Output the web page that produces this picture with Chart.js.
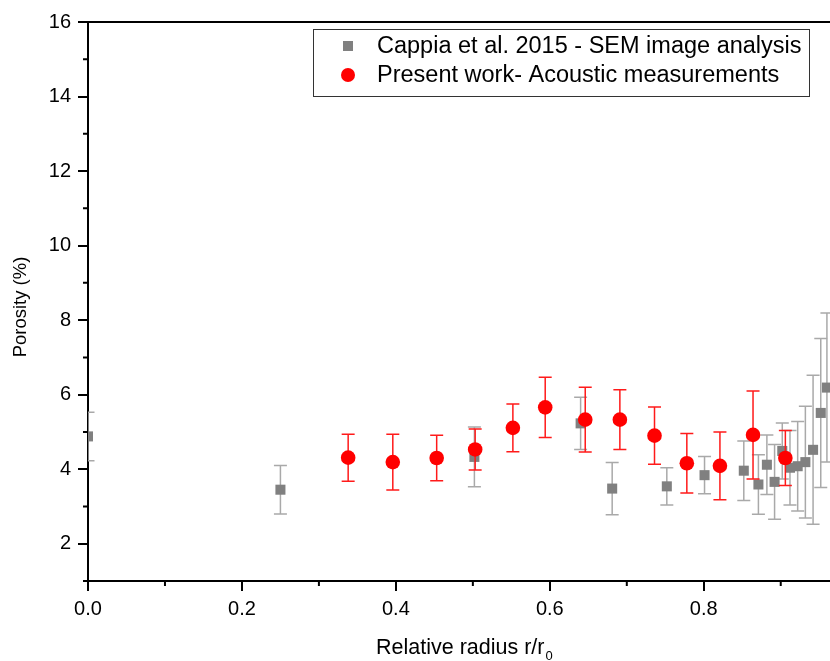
<!DOCTYPE html>
<html>
<head>
<meta charset="utf-8">
<script src="https://cdn.jsdelivr.net/npm/chart.js@4.4.1/dist/chart.umd.min.js"></script>
<style>
  html, body { margin: 0; padding: 0; background: #fff; }
  #wrap { width: 830px; height: 661px; }
</style>
</head>
<body>
<div id="wrap"><canvas id="chart" width="830" height="661"></canvas></div>
<script>
// Cappia et al. 2015 - SEM image analysis
const semX = [0, 0.25, 0.502, 0.64, 0.681, 0.752, 0.801, 0.852, 0.871, 0.882, 0.892, 0.902, 0.912, 0.922, 0.932, 0.942, 0.952, 0.960];
const semY = [4.88, 3.45, 4.33, 5.23, 3.48, 3.54, 3.84, 3.96, 3.59, 4.12, 3.66, 4.49, 4.04, 4.08, 4.19, 4.52, 5.51, 6.19];
const semErr = [0.65, 0.65, 0.8, 0.7, 0.7, 0.5, 0.5, 0.8, 0.8, 0.8, 1.0, 0.75, 1.0, 1.2, 1.5, 2.0, 2.0, 2.0];

// Present work - acoustic measurements
const acX = [0.338, 0.396, 0.453, 0.503, 0.552, 0.594, 0.646, 0.691, 0.736, 0.778, 0.821, 0.864, 0.906];
const acY = [4.31, 4.19, 4.30, 4.53, 5.11, 5.66, 5.33, 5.33, 4.90, 4.16, 4.09, 4.92, 4.30];
const acErr = [0.63, 0.75, 0.61, 0.55, 0.64, 0.81, 0.87, 0.80, 0.77, 0.80, 0.91, 1.18, 0.74];

const xTicks = [0, 0.1, 0.2, 0.3, 0.4, 0.5, 0.6, 0.7, 0.8, 0.9];
const xLabels = [0, 0.2, 0.4, 0.6, 0.8];
const yTicks = [1, 2, 3, 4, 5, 6, 7, 8, 9, 10, 11, 12, 13, 14, 15, 16];
const yLabels = [2, 4, 6, 8, 10, 12, 14, 16];

const FONT = '"Liberation Sans", Arial, sans-serif';

function pts(xs, ys) {
  return xs.map((x, i) => ({ x, y: ys[i] }));
}
function isLabel(list, v) {
  return list.some((l) => Math.abs(l - v) < 1e-6);
}

const errorBars = {
  id: 'errorBars',
  beforeDatasetDraw(chart, args) {
    const ds = chart.data.datasets[args.index];
    if (!ds.errors) return;
    const { ctx, chartArea } = chart;
    const xs = chart.scales.x, ys = chart.scales.y;
    ctx.save();
    ctx.beginPath();
    ctx.rect(chartArea.left, chartArea.top, chartArea.right - chartArea.left, chartArea.bottom - chartArea.top);
    ctx.clip();
    ctx.strokeStyle = ds.errorColor;
    ctx.lineWidth = 1.5;
    ds.data.forEach((p, i) => {
      const px = xs.getPixelForValue(p.x);
      const top = ys.getPixelForValue(p.y + ds.errors[i]);
      const bot = ys.getPixelForValue(p.y - ds.errors[i]);
      ctx.beginPath();
      ctx.moveTo(px, top); ctx.lineTo(px, bot);
      ctx.moveTo(px - 6.5, top); ctx.lineTo(px + 6.5, top);
      ctx.moveTo(px - 6.5, bot); ctx.lineTo(px + 6.5, bot);
      ctx.stroke();
    });
    ctx.restore();
  }
};

const frame = {
  id: 'frame',
  afterDraw(chart) {
    const { ctx, chartArea } = chart;
    const xs = chart.scales.x, ys = chart.scales.y;
    ctx.save();
    ctx.strokeStyle = '#000';
    ctx.lineWidth = 2;
    // top border
    ctx.beginPath();
    ctx.moveTo(chartArea.left - 1, chartArea.top);
    ctx.lineTo(chartArea.right, chartArea.top);
    ctx.stroke();
    // minor ticks
    ctx.beginPath();
    yTicks.filter((v) => !isLabel(yLabels, v)).forEach((v) => {
      const py = ys.getPixelForValue(v);
      ctx.moveTo(chartArea.left, py); ctx.lineTo(chartArea.left - 5, py);
    });
    xTicks.filter((v) => !isLabel(xLabels, v)).forEach((v) => {
      const px = xs.getPixelForValue(v);
      ctx.moveTo(px, chartArea.bottom); ctx.lineTo(px, chartArea.bottom + 5);
    });
    ctx.stroke();

    // axis titles
    ctx.fillStyle = '#000';
    ctx.font = '18.5px ' + FONT;
    ctx.textAlign = 'center';
    ctx.textBaseline = 'middle';
    ctx.save();
    ctx.translate(21, 307);
    ctx.rotate(-Math.PI / 2);
    ctx.fillText('Porosity (%)', 0, 0);
    ctx.restore();

    ctx.font = '21.5px ' + FONT;
    ctx.textAlign = 'left';
    ctx.textBaseline = 'alphabetic';
    const main = 'Relative radius r/r';
    const w = ctx.measureText(main).width;
    const x0 = 376;
    ctx.fillText(main, x0, 654);
    ctx.font = '13px ' + FONT;
    ctx.fillText('0', x0 + w + 1, 660);

    // legend
    ctx.lineWidth = 1;
    ctx.strokeStyle = '#333';
    ctx.strokeRect(313.5, 29.5, 496, 67);
    const ds = chart.data.datasets;
    ctx.fillStyle = ds[0].backgroundColor;
    ctx.fillRect(343, 41, 10, 10);
    ctx.fillStyle = ds[1].backgroundColor;
    ctx.beginPath();
    ctx.arc(348, 75, 7, 0, Math.PI * 2);
    ctx.fill();
    ctx.fillStyle = '#000';
    ctx.font = '23.5px ' + FONT;
    ctx.textBaseline = 'middle';
    ctx.fillText(ds[0].label, 377, 47);
    ctx.fillText(ds[1].label, 377, 76);
    ctx.restore();
  }
};

new Chart(document.getElementById('chart'), {
  type: 'scatter',
  data: {
    datasets: [
      {
        label: 'Cappia et al. 2015 - SEM image analysis',
        data: pts(semX, semY),
        errors: semErr,
        errorColor: '#a9a9a9',
        pointStyle: 'rect',
        pointRadius: 7.1,
        pointHoverRadius: 7.1,
        backgroundColor: '#808080',
        borderColor: '#808080',
        borderWidth: 0,
        clip: 0,
        order: 1
      },
      {
        label: 'Present work- Acoustic measurements',
        data: pts(acX, acY),
        errors: acErr,
        errorColor: '#ff1a1a',
        pointStyle: 'circle',
        pointRadius: 7.3,
        pointHoverRadius: 7.3,
        backgroundColor: '#ff0000',
        borderColor: '#ff0000',
        borderWidth: 0,
        clip: 0,
        order: 0
      }
    ]
  },
  options: {
    responsive: false,
    animation: false,
    layout: { autoPadding: false, padding: { top: 22, right: 0, left: 0, bottom: 0 } },
    plugins: { legend: { display: false }, tooltip: { enabled: false } },
    scales: {
      x: {
        type: 'linear',
        min: 0,
        max: 0.964,
        afterBuildTicks: (scale) => { scale.ticks = xTicks.map((v) => ({ value: v })); },
        afterFit: (scale) => { scale.height = 80; scale.paddingLeft = 0; scale.paddingRight = 0; },
        border: { color: '#000', width: 2 },
        grid: {
          drawOnChartArea: false,
          tickLength: 10,
          lineWidth: 2,
          color: (c) => (c.tick && isLabel(xLabels, c.tick.value) ? '#000' : 'rgba(0,0,0,0)')
        },
        ticks: {
          padding: 6,
          color: '#000',
          font: { family: FONT, size: 20 },
          maxRotation: 0,
          autoSkip: false,
          callback: (v) => (isLabel(xLabels, v) ? v.toFixed(1) : '')
        }
      },
      y: {
        type: 'linear',
        min: 1,
        max: 16,
        afterBuildTicks: (scale) => { scale.ticks = yTicks.map((v) => ({ value: v })); },
        afterFit: (scale) => { scale.width = 88; scale.paddingTop = 0; scale.paddingBottom = 0; },
        border: { color: '#000', width: 2 },
        grid: {
          drawOnChartArea: false,
          tickLength: 10,
          lineWidth: 2,
          color: (c) => (c.tick && isLabel(yLabels, c.tick.value) ? '#000' : 'rgba(0,0,0,0)')
        },
        ticks: {
          padding: 7,
          color: '#000',
          font: { family: FONT, size: 20 },
          autoSkip: false,
          callback: (v) => (isLabel(yLabels, v) ? String(v) : '')
        }
      }
    }
  },
  plugins: [errorBars, frame]
});
</script>
</body>
</html>
